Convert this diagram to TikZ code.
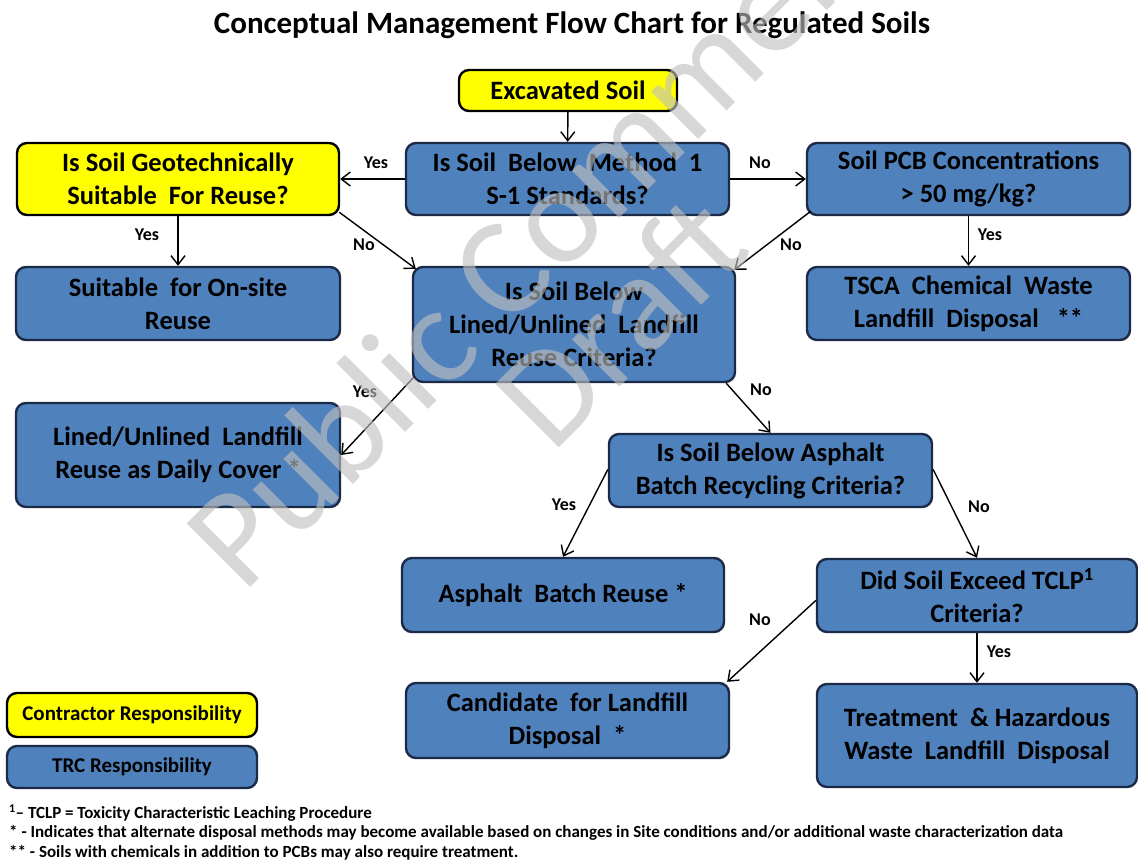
\documentclass[tikz,border=0pt]{standalone}
\usepackage{fontspec}
\setmainfont{Carlito}
\usetikzlibrary{arrows.meta}
\definecolor{boxblue}{HTML}{4F81BD}
\definecolor{boxline}{HTML}{1B2A47}
\definecolor{boxyellow}{HTML}{FFFF00}
\definecolor{wmgray}{HTML}{C0C0C0}
\tikzset{
  flow/.style={draw=boxline, line width=2.4pt, rounded corners=10pt, align=center, inner sep=0pt, text=black, font=\bfseries\fontsize{26.5}{33}\selectfont},
  trcbox/.style={flow, fill=boxblue},
  conbox/.style={flow, fill=boxyellow, draw=black},
  arr/.style={-{Straight Barb[length=9pt,width=14pt]}, line width=1.4pt},
  yn/.style={font=\bfseries\fontsize{18}{20}\selectfont},
  note/.style={anchor=west, inner sep=0pt, font=\bfseries\fontsize{17}{19}\selectfont},
  wmark/.style={text=wmgray, text opacity=0.62, rotate=45, font=\fontsize{140}{140}\selectfont}
}
\newcommand{\soilbox}[6]{\node[#1, minimum width=#4pt, minimum height=#5pt] (#2) at (#3) {#6};}

\begin{document}
\begin{tikzpicture}[x=1pt, y=-1pt]
\fill[white] (0,0) rectangle (1138,861);
\useasboundingbox (0,0) rectangle (1138,861);
\node[font=\bfseries\fontsize{31}{36}\selectfont] (title) at (572,25) {Conceptual Management Flow Chart for Regulated Soils};
% boxes
\soilbox{conbox}{exc}{568,90.5}{218}{41}{Excavated Soil}
\soilbox{conbox}{geo}{178,179}{322}{72}{Is Soil Geotechnically\\ Suitable \ For Reuse?}
\soilbox{trcbox}{meth}{567.5,179}{323}{72}{Is Soil \ Below \ Method \ 1\\ S-1 Standards?}
\soilbox{trcbox}{pcb}{968.5,179}{323}{72}{Soil PCB Concentrations\\ > 50 mg/kg?}
\soilbox{trcbox}{suit}{178,303.5}{324}{73}{Suitable \ for On-site\\ Reuse}
\soilbox{trcbox}{crit}{574,324.5}{322}{115}{Is Soil Below\\ Lined/Unlined \ Landfill\\ Reuse Criteria?}
\soilbox{trcbox}{tsca}{968.5,303.5}{323}{73}{TSCA \ Chemical \ Waste\\ Landfill \ Disposal \ \ **}
\soilbox{trcbox}{cover}{178,455}{324}{104}{Lined/Unlined \ Landfill\\ Reuse as Daily Cover *}
\soilbox{trcbox}{asq}{770.5,470.5}{323}{73}{Is Soil Below Asphalt\\ Batch Recycling Criteria?}
\soilbox{trcbox}{abr}{563,595}{322}{74}{Asphalt \ Batch Reuse *}
\soilbox{trcbox}{tclp}{977,595.5}{320}{73}{Did Soil Exceed TCLP\textsuperscript{1}\\ Criteria?}
\soilbox{trcbox}{cand}{567.5,720.5}{323}{75}{Candidate \ for Landfill\\ Disposal \ *}
\soilbox{trcbox}{treat}{977,735.5}{320}{103}{Treatment \ \& Hazardous\\ Waste \ Landfill \ Disposal}
% legend
\soilbox{conbox, font=\bfseries\fontsize{21}{24}\selectfont}{leg1}{132,715}{250}{44}{Contractor Responsibility}
\soilbox{trcbox, font=\bfseries\fontsize{21}{24}\selectfont}{leg2}{132,767}{250}{42}{TRC Responsibility}
% arrows
\draw[arr] (exc) -- (meth);
\draw[arr] (meth) -- (geo);
\draw[arr] (meth) -- (pcb);
\draw[arr] (geo) -- (suit);
\draw[arr] ([shift={(-1,-4)}]geo.south east) -- ([shift={(4,3)}]crit.north west);
\draw[arr] ([shift={(5,-5)}]pcb.south west) -- ([shift={(-2,4)}]crit.north east);
\draw[arr] (pcb) -- (tsca);
\draw[arr] ([shift={(2,-6)}]crit.south west) -- (cover.east);
\draw[arr] ([xshift=-10pt]crit.south east) -- (asq.north);
\draw[arr] ([yshift=1pt]asq.west) -- (abr.north);
\draw[arr] ([yshift=1pt]asq.east) -- (tclp.north);
\draw[arr] ([yshift=-5pt]tclp.west) -- ([shift={(-3,0)}]cand.north east);
\draw[arr] (tclp) -- (treat);
% yes / no
\node[yn] (y1) at (376,163) {Yes};
\node[yn] (n1) at (760,163) {No};
\node[yn] (y2) at (147,235) {Yes};
\node[yn] (n2) at (364,245) {No};
\node[yn] (n3) at (791,245) {No};
\node[yn] (y3) at (990,235) {Yes};
\node[yn] (y4) at (365,392) {Yes};
\node[yn] (n4) at (761,390) {No};
\node[yn] (y5) at (564,505) {Yes};
\node[yn] (n5) at (979,507) {No};
\node[yn] (n6) at (760,620) {No};
\node[yn] (y6) at (999,652) {Yes};
% notes
\node[note] (f1) at (9,813) {\textsuperscript{1}– TCLP = Toxicity Characteristic Leaching Procedure};
\node[note] (f2) at (9,833) {* - Indicates that alternate disposal methods may become available based on changes in Site conditions and/or additional waste characterization data};
\node[note] (f3) at (9,853) {** - Soils with chemicals in addition to PCBs may also require treatment.};
% watermark
\node[wmark] (wm1) at (540,230) {Public Comment};
\node[wmark] (wm2) at (620,320) {Draft};
\end{tikzpicture}
\end{document}
